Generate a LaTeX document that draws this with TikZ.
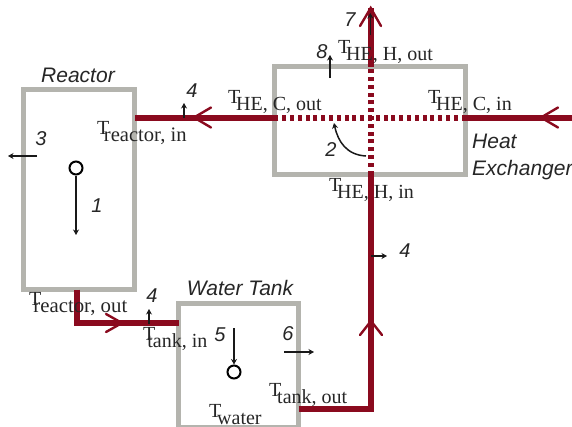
\documentclass[tikz,border=0pt]{standalone}
\usepackage{fontspec}
\setmainfont{Liberation Serif}
\newfontfamily\lblfont{Liberation Sans}
\usetikzlibrary{arrows.meta}
\definecolor{pipe}{HTML}{8A0A1E}
\definecolor{wall}{HTML}{B4B4AE}
\newcommand{\tlabel}[4][-4.2pt]{\node[tlab] at (#2,#3) {T\kern#1\raisebox{-7pt}{#4}};}
\tikzset{x=1pt,y=-1pt,
  vessel/.style={draw=wall,line width=5pt,fill=none,rectangle,inner sep=0pt,outer sep=0pt},
  pipeline/.style={draw=pipe,line width=6pt},
  pipedots/.style={draw=pipe,line width=6pt,dash pattern=on 4pt off 3.8pt},
  flowhead/.style={draw=pipe,line width=2.4pt,line cap=round,line join=miter},
  heatflow/.style={draw=black!90,line width=1.5pt,-{Stealth[length=5.5pt,width=6pt]}},
  bulb/.style={draw=black,line width=2pt,circle,minimum size=13pt,inner sep=0pt,fill=white},
  tlab/.style={anchor=base west,inner sep=0pt,font=\fontsize{20}{20}\selectfont,text=black!85},
  titlelab/.style={inner sep=0pt,font=\lblfont\itshape\fontsize{21}{27}\selectfont,text=black!85,align=left},
  numlab/.style={inner sep=0pt,font=\lblfont\itshape\fontsize{20}{20}\selectfont,text=black!85}}
\begin{document}
\begin{tikzpicture}
\useasboundingbox (0,0) rectangle (572,426);
% vessels
\node[vessel,minimum width=111.5pt,minimum height=200pt] (reactor) at (78.75,189.5) {};
\node[vessel,minimum width=191pt,minimum height=108pt] (he) at (370,120.5) {};
\node[vessel,minimum width=120pt,minimum height=124pt] (tank) at (238.5,365.5) {};
% pipe waypoints
\coordinate (hecross) at (370.7,117.5);
\coordinate (topend) at (370.7,8);
\coordinate (rightend) at (572,117.5);
\coordinate (rdrop) at (76.7,323);
\coordinate (tankcorner) at (371,409);
% pipes
\draw[pipeline] (he.west |- hecross) -- (reactor.east |- hecross);
\draw[pipeline] (rightend) -- (he.east |- hecross);
\draw[pipeline] (he.north -| hecross) -- (topend);
\draw[pipeline] (tank.east |- tankcorner) -- (tankcorner -| hecross) -- (hecross |- he.south);
\draw[pipeline] (reactor.south -| rdrop) -- (rdrop) -- (tank.west |- rdrop);
\draw[pipedots] (he.east |- hecross) -- (he.west |- hecross);
\draw[pipedots] (he.south -| hecross) -- (he.north -| hecross);
% flow heads
\draw[flowhead] (211,107.5) -- (194,117.5) -- (211,127.5);
\draw[flowhead] (558,107.5) -- (541,117.5) -- (558,127.5);
\draw[flowhead] (106,314) -- (122,323) -- (106,332);
\draw[flowhead] (360,335) -- (371,321) -- (382,335);
\draw[flowhead] (360,26) -- (370.7,8) -- (381,26);
% bulbs
\node[bulb] (rbulb) at (76,168) {};
\node[bulb] (tbulb) at (234,372) {};
\coordinate (rtip) at (76,235);
\coordinate (ttop) at (234,328);
\draw[heatflow] (rbulb) -- (rtip);
\draw[heatflow] (ttop) -- (tbulb);
% heat arrows
\coordinate (a7a) at (370.3,35); \coordinate (a7b) at (370.3,13);
\coordinate (a8a) at (330,78); \coordinate (a8b) at (330,55);
\coordinate (a2a) at (366,156); \coordinate (a2b) at (334,123);
\coordinate (a4a) at (184,118); \coordinate (a4b) at (184,103);
\coordinate (a3a) at (37,156); \coordinate (a3b) at (8,156);
\coordinate (a4ca) at (149,324); \coordinate (a4cb) at (149,309);
\coordinate (a6a) at (284,352); \coordinate (a6b) at (314,352);
\coordinate (a4ra) at (371,256); \coordinate (a4rb) at (387,256);
\draw[heatflow] (a7a) -- (a7b);
\draw[heatflow] (a8a) -- (a8b);
\draw[heatflow] (a2a) .. controls (347,155) and (338,142) .. (a2b);
\draw[heatflow] (a4a) -- (a4b);
\draw[heatflow] (a3a) -- (a3b);
\draw[heatflow] (a4ca) -- (a4cb);
\draw[heatflow] (a6a) -- (a6b);
\draw[heatflow] (a4ra) -- (a4rb);
% temperature labels
\tlabel{338}{53}{HE, H, out}
\tlabel{428}{103}{HE, C, in}
\tlabel{228}{103}{HE, C, out}
\tlabel{329}{191}{HE, H, in}
\tlabel[-5.5pt]{97}{134}{\fontsize{20.6}{20}\selectfont reactor, in}
\tlabel[-8pt]{29}{305}{\fontsize{20.8}{20}\selectfont reactor, out}
\tlabel[-8pt]{143}{340}{tank, in}
\tlabel{269}{396}{tank, out}
\tlabel{209}{417}{water}
% names
\node[titlelab] (nreactor) at (78,75) {Reactor};
\node[titlelab] (ntank) at (240,288) {Water Tank};
\node[titlelab,anchor=north west] (nhe) at (472,134) {Heat\\Exchanger};
% numbers
\node[numlab] (n7) at (350,20) {7};
\node[numlab] (n8) at (322,52) {8};
\node[numlab] (n2) at (331,150) {2};
\node[numlab] (n4a) at (192,91) {4};
\node[numlab] (n3) at (41,139) {3};
\node[numlab] (n1) at (97,206) {1};
\node[numlab] (n4b) at (152,296) {4};
\node[numlab] (n5) at (220,335) {5};
\node[numlab] (n6) at (288,334) {6};
\node[numlab] (n4c) at (405,251) {4};
\end{tikzpicture}
\end{document}
